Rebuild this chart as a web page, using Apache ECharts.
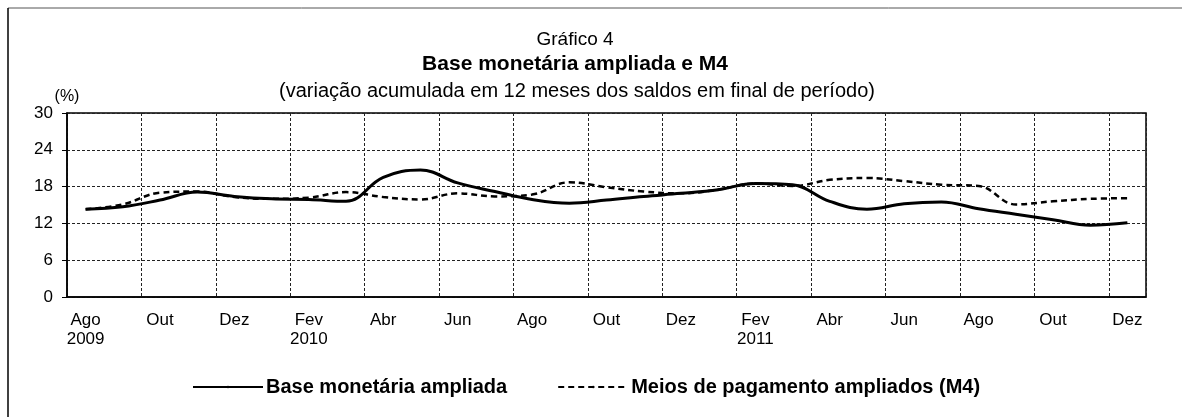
<!DOCTYPE html>
<html>
<head>
<meta charset="utf-8">
<script src="https://cdn.jsdelivr.net/npm/echarts@6/dist/echarts.min.js"></script>
<style>
  html, body { margin: 0; padding: 0; background: #fff; }
  #chart { width: 1184px; height: 417px; }
</style>
</head>
<body>
<div id="chart"></div>
<script>
// meses de ago/2009 a dez/2011
var categorias = [
	'Ago\n2009', 'Set', 'Out', 'Nov', 'Dez',
	'Jan', 'Fev\n2010', 'Mar', 'Abr', 'Mai', 'Jun', 'Jul', 'Ago', 'Set', 'Out', 'Nov', 'Dez',
	'Jan', 'Fev\n2011', 'Mar', 'Abr', 'Mai', 'Jun', 'Jul', 'Ago', 'Set', 'Out', 'Nov', 'Dez'
];

// base monetária ampliada (%)
var baseMonetaria = [
	14.3, 14.7, 15.8, 17.1, 16.4,
	16.0, 15.9, 15.6, 19.5, 20.7, 18.6, 17.2, 15.9, 15.3, 15.8, 16.4, 16.9,
	17.5, 18.5, 18.3, 15.6, 14.3, 15.2, 15.5, 14.4, 13.5, 12.6, 11.7, 12.1
];

// meios de pagamento ampliados M4 (%)
var m4 = [
	14.3, 15.1, 17.0, 17.2, 16.3,
	16.0, 16.2, 17.1, 16.3, 15.9, 16.9, 16.4, 16.7, 18.7, 17.9, 17.2, 16.9,
	17.5, 18.5, 18.1, 19.1, 19.4, 18.9, 18.3, 18.1, 15.1, 15.6, 16.0, 16.1
];

var yTicks = [0, 6, 12, 18, 24, 30];

var fonte = '"Liberation Sans", Arial, sans-serif';
var chart = echarts.init(document.getElementById('chart'));

var option = {
	animation: false,
	backgroundColor: '#fff',
	textStyle: { fontFamily: fonte, color: '#000' },
	title: [
		{ text: 'Gráfico 4', left: 570, top: 25, textAlign: 'center',
			textStyle: { fontFamily: fonte, fontSize: 19, fontWeight: 'normal', color: '#000' } },
		{ text: 'Base monetária ampliada e M4', left: 570, top: 49, textAlign: 'center',
			textStyle: { fontFamily: fonte, fontSize: 21, fontWeight: 'bold', color: '#000' } },
		{ text: '(variação acumulada em 12 meses dos saldos em final de período)', left: 572, top: 76, textAlign: 'center',
			textStyle: { fontFamily: fonte, fontSize: 20, fontWeight: 'normal', color: '#000' } }
	],
	legend: {
		left: 187,
		top: 372,
		itemWidth: 70,
		itemHeight: 3,
		itemGap: 50,
		textStyle: { fontFamily: fonte, fontSize: 20, fontWeight: 'bold', color: '#000', padding: [0, 0, 0, -2] },
		data: ['Base monetária ampliada', 'Meios de pagamento ampliados (M4)']
	},
	grid: {
		left: 67,
		right: 38,
		top: 113,
		bottom: 120,
		show: true,
		borderColor: '#000',
		borderWidth: 1.5
	},
	xAxis: {
		type: 'category',
		boundaryGap: true,
		data: categorias,
		axisLine: { lineStyle: { color: '#000', width: 1.5 } },
		axisTick: { interval: 1, length: 5, lineStyle: { color: '#000' } },
		axisLabel: { interval: 1, margin: 14, fontSize: 17, lineHeight: 19, color: '#000', fontFamily: fonte },
		splitLine: { show: true, interval: 1, lineStyle: { color: '#222', width: 1, type: [3, 2] } }
	},
	yAxis: {
		type: 'value',
		min: yTicks[0],
		max: yTicks[yTicks.length - 1],
		interval: 6,
		name: '(%)',
		nameLocation: 'end',
		nameGap: 5,
		nameTextStyle: { fontFamily: fonte, fontSize: 16, color: '#000', align: 'center' },
		axisLine: { show: true, lineStyle: { color: '#000', width: 1.5 } },
		axisTick: { show: true, length: 5, lineStyle: { color: '#000' } },
		axisLabel: { margin: 14, fontSize: 17, color: '#000', fontFamily: fonte },
		splitLine: { show: true, lineStyle: { color: '#222', width: 1, type: [3, 2] } }
	},
	series: [
		{
			name: 'Base monetária ampliada',
			type: 'line',
			data: baseMonetaria,
			smooth: 0.4,
			symbol: 'none',
			lineStyle: { color: '#000', width: 3, type: 'solid' },
			itemStyle: { color: '#000' }
		},
		{
			name: 'Meios de pagamento ampliados (M4)',
			type: 'line',
			data: m4,
			smooth: 0.4,
			symbol: 'none',
			lineStyle: { color: '#000', width: 2.5, type: [6, 4] },
			itemStyle: { color: '#000' }
		}
	],
	graphic: [
		{ type: 'line', shape: { x1: 8, y1: 8, x2: 1182, y2: 8 }, style: { stroke: '#555', lineWidth: 1 } },
		{ type: 'line', shape: { x1: 8, y1: 8, x2: 8, y2: 417 }, style: { stroke: '#000', lineWidth: 1.5 } }
	]
};

chart.setOption(option);
</script>
</body>
</html>
